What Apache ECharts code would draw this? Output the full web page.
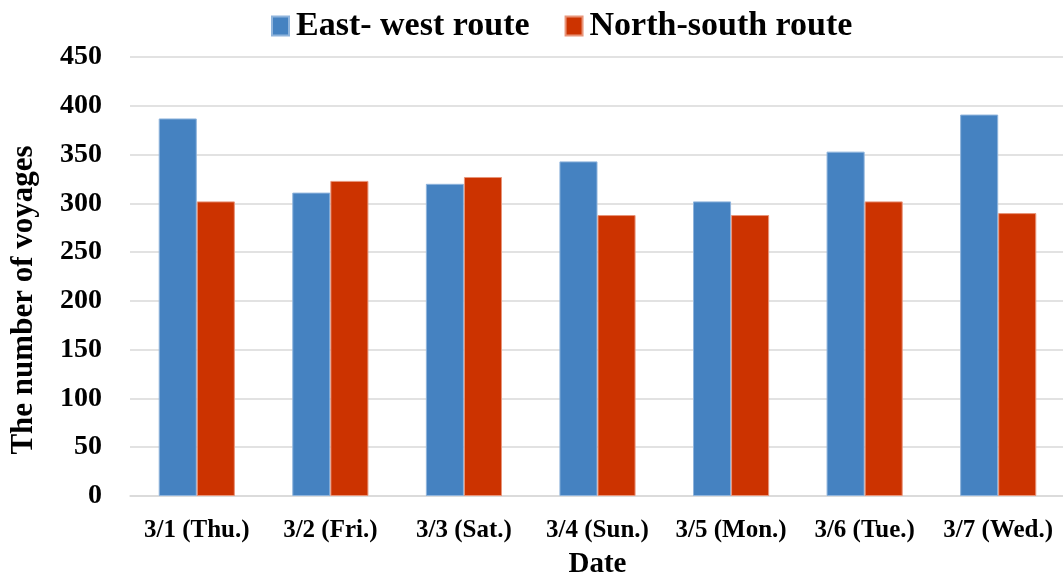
<!DOCTYPE html>
<html><head><meta charset="utf-8">
<script src="https://cdn.jsdelivr.net/npm/echarts@6/dist/echarts.min.js"></script>
<style>html,body{margin:0;padding:0;background:#fff}#c{width:1063px;height:581px}</style>
</head><body><div id="c"></div>
<script>
const categories = ['3/1 (Thu.)','3/2 (Fri.)','3/3 (Sat.)','3/4 (Sun.)','3/5 (Mon.)','3/6 (Tue.)','3/7 (Wed.)'];
const eastWest = [387, 311, 320, 343, 302, 353, 391];
const northSouth = [302, 323, 327, 288, 288, 302, 290];
const seriesNames = ['East- west route', 'North-south route'];
const yTitle = 'The number of voyages';
const xTitle = 'Date';

const font = 'Liberation Serif, Times New Roman, serif';
const chart = echarts.init(document.getElementById('c'));
chart.setOption({
  animation: false,
  legend: {
    top: 4, left: 266,
    icon: 'rect',
    itemWidth: 17, itemHeight: 19, itemGap: 35,
    textStyle: {fontFamily: font, fontWeight: 'bold', fontSize: 34, color: '#000', padding: [0, 0, 0, 2]},
    data: seriesNames
  },
  grid: {left: 130, right: -2, top: 57, bottom: 85, outerBoundsMode: 'none', containLabel: false},
  xAxis: {
    type: 'category', data: categories,
    axisLine: {lineStyle: {color: '#d9d9d9', width: 1.5}},
    axisTick: {show: false},
    axisLabel: {interval: 0, fontFamily: font, fontWeight: 'bold', fontSize: 25, color: '#000', margin: 22},
    name: xTitle, nameLocation: 'middle', nameGap: 54,
    nameTextStyle: {fontFamily: font, fontWeight: 'bold', fontSize: 29, color: '#000'}
  },
  yAxis: {
    type: 'value', min: 0, max: 450, interval: 50,
    axisLine: {show: false}, axisTick: {show: false},
    splitLine: {lineStyle: {color: '#d9d9d9', width: 1.5}},
    axisLabel: {fontFamily: font, fontWeight: 'bold', fontSize: 28, color: '#000', margin: 28}
  },
  graphic: [{
    type: 'text', x: 24, y: 300,
    rotation: Math.PI / 2,
    style: {text: yTitle, fontFamily: font, fontWeight: 'bold', fontSize: 31, fill: '#000', align: 'center', verticalAlign: 'middle'}
  }],
  series: [
    {name: seriesNames[0], type: 'bar', data: eastWest, barGap: '0%', barCategoryGap: '43%',
     itemStyle: {color: '#4582C1', borderColor: '#8fb4dc', borderWidth: 1}},
    {name: seriesNames[1], type: 'bar', data: northSouth,
     itemStyle: {color: '#CC3300', borderColor: '#e8957a', borderWidth: 1}}
  ]
});
</script></body></html>
